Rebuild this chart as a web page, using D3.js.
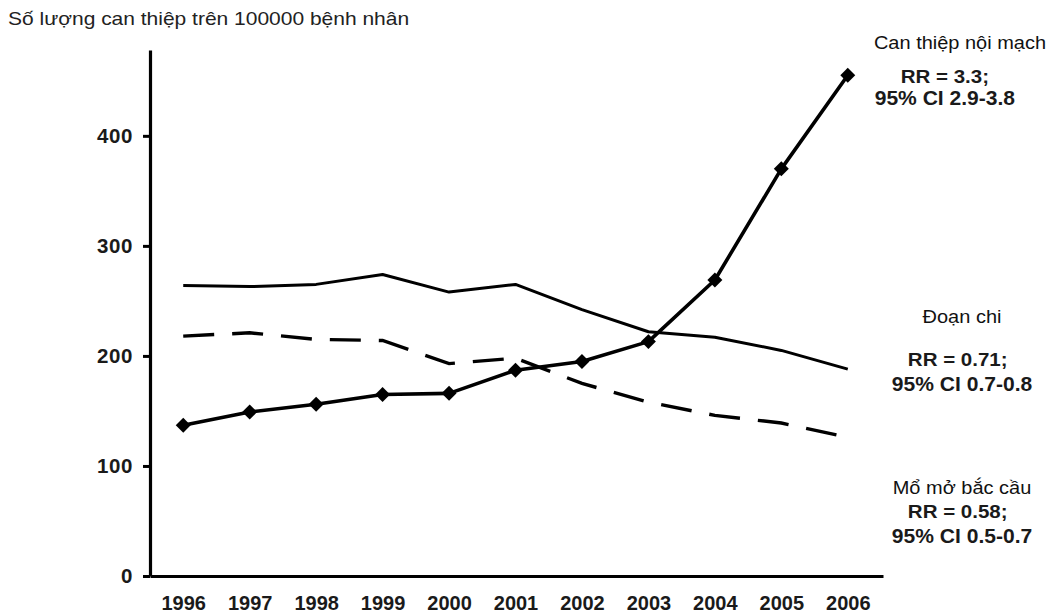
<!DOCTYPE html>
<html>
<head>
<meta charset="utf-8">
<script src="https://cdn.jsdelivr.net/npm/d3@7/dist/d3.min.js"></script>
<style>
  html, body { margin: 0; padding: 0; background: #fff; }
  svg { display: block; }
  text { font-family: "Liberation Sans", Arial, Helvetica, sans-serif; }
</style>
</head>
<body>
<script>
// Procedures per 100,000 patients, 1996–2006
const years = [1996, 1997, 1998, 1999, 2000, 2001, 2002, 2003, 2004, 2005, 2006];
const endovascular = [137, 149, 156, 165, 166, 187, 195, 213, 269, 370, 455];
const amputation   = [264, 263, 265, 274, 258, 265, 242, 222, 217, 205, 188];
const bypass       = [218, 221, 215, 214, 193, 198, 175, 158, 146, 139, 126];
const yTicks = [0, 100, 200, 300, 400];

const yTitle = "Số lượng can thiệp trên 100000 bệnh nhân";
const seriesNotes = [
  { name: "Can thiệp nội mạch", rr: "RR = 3.3;",  ci: "95% CI 2.9-3.8" },
  { name: "Đoạn chi",           rr: "RR = 0.71;", ci: "95% CI 0.7-0.8" },
  { name: "Mổ mở bắc cầu",      rr: "RR = 0.58;", ci: "95% CI 0.5-0.7" }
];

const W = 1051, H = 615;
const svg = d3.select("body").append("svg").attr("width", W).attr("height", H);

const x = d3.scaleLinear().domain([1995.5, 2006.53]).range([150, 883]);
const y = d3.scaleLinear().domain([0, 478]).range([576, 50]);

// Axes
const yAxis = svg.append("g")
  .attr("transform", "translate(150,0)")
  .call(d3.axisLeft(y).tickValues(yTicks).tickSize(7).tickPadding(10).tickSizeOuter(0));
const xAxis = svg.append("g")
  .attr("transform", "translate(0,576)")
  .call(d3.axisBottom(x).tickValues(years).tickFormat(d3.format("d")).tickSize(0).tickPadding(20));

[yAxis, xAxis].forEach(g => {
  g.select(".domain").attr("stroke", "#000").attr("stroke-width", 3.2);
  g.selectAll(".tick line").attr("stroke", "#000").attr("stroke-width", 3);
  g.selectAll(".tick text")
    .attr("fill", "#1a1a1a")
    .attr("font-weight", "bold")
    .attr("font-family", "'Liberation Sans', Arial, sans-serif");
});
yAxis.selectAll(".tick text").attr("font-size", 20.5).attr("letter-spacing", 0.6);
xAxis.selectAll(".tick text").attr("font-size", 20);

// Series lines
const line = d3.line().x((d, i) => x(years[i])).y(d => y(d));

svg.append("path").datum(amputation)
  .attr("d", line).attr("fill", "none")
  .attr("stroke", "#000").attr("stroke-width", 3).attr("stroke-linejoin", "round");

svg.append("path").datum(bypass)
  .attr("d", line).attr("fill", "none")
  .attr("stroke", "#000").attr("stroke-width", 3.4)
  .attr("stroke-dasharray", "31,18");

svg.append("path").datum(endovascular)
  .attr("d", line).attr("fill", "none")
  .attr("stroke", "#000").attr("stroke-width", 3.6).attr("stroke-linejoin", "round");

svg.append("g").selectAll("path").data(endovascular).join("path")
  .attr("d", d3.symbol().type(d3.symbolSquare).size(112))
  .attr("transform", (d, i) => `translate(${x(years[i])},${y(d)}) rotate(45)`)
  .attr("fill", "#000");

// Axis title
svg.append("text")
  .attr("transform", "translate(8,25) scale(1.2,1)")
  .attr("font-size", 17.5)
  .attr("fill", "#222")
  .text(yTitle);

// Series annotations
const notePos = [
  { cx: 960, name: 49,  rr: 83,  ci: 105 },
  { cx: 962, name: 323, rr: 366, ci: 391 },
  { cx: 962, name: 494, rr: 518, ci: 543 }
];
seriesNotes.forEach((n, i) => {
  const p = notePos[i];
  const g = svg.append("g").attr("transform", `translate(${p.cx},0) scale(1.08,1)`);
  g.append("text").attr("x", 0).attr("y", p.name)
    .attr("text-anchor", "middle").attr("font-size", 18.5).attr("fill", "#111")
    .text(n.name);
  g.append("text").attr("x", -14 + (i === 0 ? 0 : 10)).attr("y", p.rr)
    .attr("text-anchor", "middle").attr("font-size", 19).attr("font-weight", "bold").attr("fill", "#1a1a1a")
    .text(n.rr);
  g.append("text").attr("x", -14 + (i === 0 ? 0 : 14)).attr("y", p.ci)
    .attr("text-anchor", "middle").attr("font-size", 19.5).attr("font-weight", "bold").attr("fill", "#1a1a1a")
    .text(n.ci);
});
</script>
</body>
</html>
